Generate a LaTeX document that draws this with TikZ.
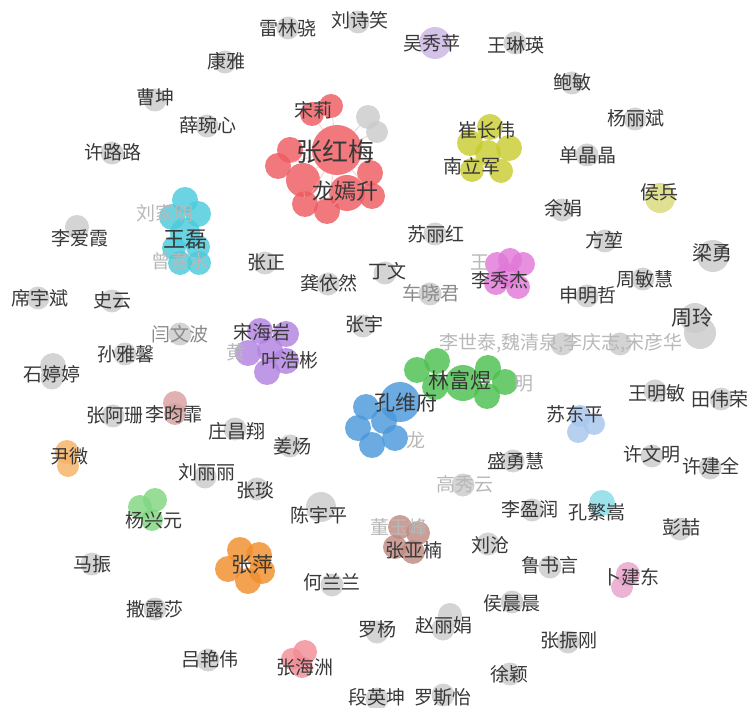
\documentclass[tikz,border=0pt]{standalone}
\usepackage{fontspec}
\newfontfamily\cjk{Noto Sans CJK SC}
\definecolor{labc}{HTML}{383838}
\definecolor{faintc}{HTML}{B8B8B8}
\definecolor{midc}{HTML}{8A8A8A}
\definecolor{cgray}{HTML}{CACACA}
\definecolor{cred}{HTML}{EE5B60}
\definecolor{cyel}{HTML}{C8CC30}
\definecolor{ccyan}{HTML}{4ACBDC}
\definecolor{cpurp}{HTML}{B283E0}
\definecolor{cmag}{HTML}{E078D8}
\definecolor{cgreen}{HTML}{4CC04E}
\definecolor{cblue}{HTML}{4A98DA}
\definecolor{clblue}{HTML}{A8C6EC}
\definecolor{corange}{HTML}{F08E2C}
\definecolor{cbrown}{HTML}{C08A80}
\definecolor{crose}{HTML}{D8A0A0}
\definecolor{cpink}{HTML}{F28C96}
\definecolor{ccyan2}{HTML}{86DCE6}
\definecolor{cpink2}{HTML}{E8A2CA}
\definecolor{cyel2}{HTML}{D8DA78}
\definecolor{cgreen2}{HTML}{80D680}
\definecolor{corange2}{HTML}{F5B264}
\definecolor{cpurp2}{HTML}{CBB4E4}
\definecolor{edgec}{HTML}{F4B0B0}
\tikzset{
  ball/.style={circle, inner sep=0pt, minimum size=#1, draw=none, fill opacity=0.82},
  ball/.default=22pt,
  gb/.style={ball=#1, fill=cgray},
  gb/.default=23pt,
  lab/.style={font=\cjk\fontsize{19}{19}\selectfont, text=labc, inner sep=0pt},
  faint/.style={lab, text=faintc},
  midlab/.style={lab, text=midc},
  big/.style={font=\cjk\fontsize{#1}{#1}\selectfont},
  edge/.style={draw=edgec, line width=0.8pt, opacity=0.7},
}
\begin{document}
\begin{tikzpicture}[x=1pt,y=-1pt]
\useasboundingbox (0,0) rectangle (750,708);
% ---------- red cluster ----------
\node[ball=50pt, fill=cred] (r0) at (337,150) {};
\node[ball=24pt, fill=cred] (r1) at (331,106) {};
\node[ball=24pt, fill=cred] (r2) at (312,114) {};
\node[ball=26pt, fill=cred] (r3) at (290,150) {};
\node[ball=26pt, fill=cred] (r4) at (278,166) {};
\node[ball=34pt, fill=cred] (r5) at (303,180) {};
\node[ball=26pt, fill=cred] (r6) at (305,204) {};
\node[ball=26pt, fill=cred] (r7) at (327,211) {};
\node[ball=36pt, fill=cred] (r8) at (347,193) {};
\node[ball=26pt, fill=cred] (r9) at (370,173) {};
\node[ball=26pt, fill=cred] (r10) at (372,196) {};
\node[gb=24pt] (rg1) at (368,117) {};
\node[gb=22pt] (rg2) at (377,132) {};
\foreach \n in {r1,r2,r3,r4,r5,r6,r7,r8,r9,r10,rg1,rg2} \draw[edge] (r0) -- (\n);
\draw[edge] (r8) -- (r6); \draw[edge] (r8) -- (r7); \draw[edge] (r5) -- (r6);
% ---------- yellow cluster ----------
\node[ball=26pt, fill=cyel] (y1) at (490,127) {};
\node[ball=26pt, fill=cyel] (y2) at (470,143) {};
\node[ball=26pt, fill=cyel] (y3) at (488,153) {};
\node[ball=26pt, fill=cyel] (y4) at (509,148) {};
\node[ball=24pt, fill=cyel] (y5) at (472,170) {};
\node[ball=24pt, fill=cyel] (y6) at (501,171) {};
% ---------- cyan cluster ----------
\node[ball=26pt, fill=ccyan] (c1) at (185,200) {};
\node[ball=26pt, fill=ccyan] (c2) at (172,217) {};
\node[ball=26pt, fill=ccyan] (c3) at (198,214) {};
\node[ball=30pt, fill=ccyan] (c4) at (185,233) {};
\node[ball=24pt, fill=ccyan] (c6) at (174,248) {};
\node[ball=24pt, fill=ccyan] (c7) at (198,247) {};
\node[ball=24pt, fill=ccyan] (c8) at (180,263) {};
\node[ball=24pt, fill=ccyan] (c9) at (199,263) {};
% ---------- magenta cluster ----------
\node[ball=24pt, fill=cmag] (m1) at (497,264) {};
\node[ball=24pt, fill=cmag] (m2) at (510,260) {};
\node[ball=24pt, fill=cmag] (m3) at (523,264) {};
\node[ball=24pt, fill=cmag] (m4) at (496,283) {};
\node[ball=24pt, fill=cmag] (m5) at (518,287) {};
\node[ball=24pt, fill=cmag] (m6) at (508,275) {};
% ---------- purple cluster ----------
\node[ball=26pt, fill=cpurp] (p1) at (260,331) {};
\node[ball=26pt, fill=cpurp] (p2) at (286,334) {};
\node[ball=26pt, fill=cpurp] (p3) at (248,353) {};
\node[ball=26pt, fill=cpurp] (p4) at (270,350) {};
\node[ball=26pt, fill=cpurp] (p5) at (286,361) {};
\node[ball=26pt, fill=cpurp] (p6) at (267,372) {};
% ---------- green cluster ----------
\node[ball=26pt, fill=cgreen] (g1) at (417,370) {};
\node[ball=26pt, fill=cgreen] (g2) at (437,361) {};
\node[ball=26pt, fill=cgreen] (g3) at (435,387) {};
\node[ball=36pt, fill=cgreen] (g4) at (463,383) {};
\node[ball=26pt, fill=cgreen] (g5) at (488,368) {};
\node[ball=26pt, fill=cgreen] (g6) at (505,382) {};
\node[ball=26pt, fill=cgreen] (g7) at (487,396) {};
% ---------- blue cluster ----------
\node[ball=26pt, fill=cblue] (b1) at (366,407) {};
\node[ball=40pt, fill=cblue] (b2) at (400,402) {};
\node[ball=26pt, fill=cblue] (b3) at (384,421) {};
\node[ball=26pt, fill=cblue] (b4) at (358,428) {};
\node[ball=26pt, fill=cblue] (b5) at (372,445) {};
\node[ball=26pt, fill=cblue] (b6) at (395,438) {};
\draw[draw=clblue, opacity=0.6] (b2) -- (g1); \draw[draw=clblue, opacity=0.6] (b2) -- (b6);
% ---------- small coloured groups ----------
\node[ball=32pt, fill=cpurp2] (wx) at (435,43) {};
\node[ball=30pt, fill=cyel2] (hb) at (660,198) {};
\node[ball=22pt, fill=clblue] (sd1) at (580,416) {};
\node[ball=22pt, fill=clblue] (sd2) at (594,424) {};
\node[ball=22pt, fill=clblue] (sd3) at (578,432) {};
\node[ball=26pt, fill=ccyan2] (kf) at (602,503) {};
\node[ball=24pt, fill=cpink2] (bj1) at (628,574) {};
\node[ball=22pt, fill=cpink2] (bj2) at (622,587) {};
\node[ball=24pt, fill=cbrown] (zy1) at (400,527) {};
\node[ball=24pt, fill=cbrown] (zy2) at (418,533) {};
\node[ball=24pt, fill=cbrown] (zy3) at (395,547) {};
\node[ball=24pt, fill=cbrown] (zy4) at (413,552) {};
\node[ball=26pt, fill=corange] (zp1) at (240,550) {};
\node[ball=26pt, fill=corange] (zp2) at (259,555) {};
\node[ball=26pt, fill=corange] (zp3) at (228,569) {};
\node[ball=26pt, fill=corange] (zp4) at (248,581) {};
\node[ball=26pt, fill=corange] (zp5) at (262,571) {};
\node[ball=24pt, fill=cpink] (zh1) at (305,652) {};
\node[ball=22pt, fill=cpink] (zh2) at (292,659) {};
\node[ball=22pt, fill=cpink] (zh3) at (302,667) {};
\node[ball=24pt, fill=cgreen2] (yx1) at (140,507) {};
\node[ball=24pt, fill=cgreen2] (yx2) at (155,500) {};
\node[ball=22pt, fill=cgreen2] (yx3) at (152,520) {};
\node[ball=24pt, fill=crose] (lj1) at (175,403) {};
\node[ball=22pt, fill=crose] (lj2) at (175,414) {};
\node[ball=24pt, fill=corange2] (yw1) at (67,452) {};
\node[ball=22pt, fill=corange2] (yw2) at (68,466) {};
% ---------- gray singletons ----------
\node[gb] (n1) at (288,28) {};
\node[gb] (n2) at (358,22) {};
\node[gb] (n4) at (515,43) {};
\node[gb] (n5) at (225,62) {};
\node[gb] (n6) at (155,100) {};
\node[gb] (n7) at (207,126) {};
\node[gb] (n8) at (112,153) {};
\node[gb] (n9) at (572,83) {};
\node[gb] (n10) at (635,119) {};
\node[gb] (n11) at (587,155) {};
\node[gb] (n13) at (562,210) {};
\node[gb] (n14) at (605,241) {};
\node[gb=32pt] (n15) at (713,256) {};
\node[gb] (n16) at (643,279) {};
\node[gb] (n17) at (587,296) {};
\node[gb=30pt] (n18a) at (695,318) {};
\node[gb=32pt] (n18b) at (700,333) {};
\node[gb] (n19a) at (562,344) {};
\node[gb] (n19b) at (620,344) {};
\node[gb] (n20) at (655,391) {};
\node[gb] (n21) at (721,399) {};
\node[gb] (n23) at (652,456) {};
\node[gb] (n24) at (710,468) {};
\node[gb] (n25) at (513,461) {};
\node[gb] (n26) at (532,510) {};
\node[gb] (n28) at (680,529) {};
\node[gb] (n29) at (550,567) {};
\node[gb] (n31) at (512,602) {};
\node[gb] (n32) at (568,642) {};
\node[gb] (n33) at (510,674) {};
\node[gb] (n34) at (463,485) {};
\node[gb] (n35) at (257,489) {};
\node[gb=30pt] (n36) at (321,507) {};
\node[gb] (n38) at (488,544) {};
\node[gb] (n40) at (332,585) {};
\node[gb] (n41) at (377,632) {};
\node[gb=24pt] (n42a) at (450,615) {};
\node[gb] (n42b) at (443,629) {};
\node[gb] (n44) at (377,699) {};
\node[gb] (n45) at (443,695) {};
\node[gb] (n46) at (205,477) {};
\node[gb] (n48) at (92,564) {};
\node[gb] (n49) at (155,609) {};
\node[gb] (n50) at (208,660) {};
\node[gb=24pt] (n51) at (77,227) {};
\node[gb] (n53) at (38,298) {};
\node[gb] (n54) at (112,301) {};
\node[gb] (n55) at (180,334) {};
\node[gb] (n56) at (125,354) {};
\node[gb=26pt] (n57a) at (53,366) {};
\node[gb] (n57b) at (52,378) {};
\node[gb] (n58) at (113,416) {};
\node[gb] (n60) at (235,429) {};
\node[gb] (n62) at (435,234) {};
\node[gb] (n63) at (265,263) {};
\node[gb] (n64) at (385,273) {};
\node[gb] (n65) at (328,284) {};
\node[gb] (n66) at (430,294) {};
\node[gb] (n67) at (363,326) {};
\node[gb] (n70) at (290,446) {};
% ---------- labels ----------
\node[lab] (t1) at (288,28) {雷林骁};
\node[lab] (t2) at (360,20) {刘诗笑};
\node[lab] (t3) at (432,43) {吴秀苹};
\node[lab] (t4) at (516,45) {王琳瑛};
\node[lab] (t5) at (226,61) {康雅};
\node[lab] (t6) at (155,97) {曹坤};
\node[lab] (t7) at (208,125) {薛琬心};
\node[lab] (t8) at (113,152) {许路路};
\node[lab] (t9) at (572,82) {鲍敏};
\node[lab] (t10) at (636,118) {杨丽斌};
\node[lab] (t11) at (588,155) {单晶晶};
\node[lab] (t12) at (659,192) {侯兵};
\node[lab] (t13) at (563,208) {余娟};
\node[lab] (t14) at (604,240) {方堃};
\node[lab, big=20] (t15) at (712,253) {梁勇};
\node[lab] (t16) at (645,279) {周敏慧};
\node[lab] (t17) at (588,295) {申明哲};
\node[lab, big=21] (t18) at (692,318) {周玲};
\node[faint] (t19) at (561,343) {李世泰,魏清泉,李庆志,宋彦华};
\node[lab] (t20) at (657,393) {王明敏};
\node[lab] (t21) at (720,399) {田伟荣};
\node[lab] (t22) at (575,414) {苏东平};
\node[lab] (t23) at (652,454) {许文明};
\node[lab] (t24) at (711,466) {许建全};
\node[lab] (t25) at (516,461) {盛勇慧};
\node[lab] (t26) at (530,509) {李盈润};
\node[lab] (t27) at (597,512) {孔繁嵩};
\node[lab] (t28) at (681,527) {彭喆};
\node[lab] (t29) at (550,565) {鲁书言};
\node[lab] (t30) at (631,577) {卜建东};
\node[lab] (t31) at (512,603) {侯晨晨};
\node[lab] (t32) at (569,640) {张振刚};
\node[lab] (t33) at (509,674) {徐颖};
\node[faint] (t34) at (465,484) {高秀云};
\node[lab] (t35) at (255,490) {张琰};
\node[lab] (t36) at (319,515) {陈宇平};
\node[faint] (t37a) at (399,527) {董玉峰};
\node[lab] (t37) at (414,550) {张亚楠};
\node[lab] (t38) at (490,545) {刘沧};
\node[lab, big=21] (t39) at (252,565) {张萍};
\node[lab] (t40) at (332,582) {何兰兰};
\node[lab] (t41) at (377,629) {罗杨};
\node[lab] (t42) at (444,625) {赵丽娟};
\node[lab] (t43) at (305,667) {张海洲};
\node[lab] (t44) at (377,697) {段英坤};
\node[lab] (t45) at (443,697) {罗斯怡};
\node[lab] (t46) at (207,472) {刘丽丽};
\node[lab] (t47) at (154,520) {杨兴元};
\node[lab] (t48) at (92,564) {马振};
\node[lab] (t49) at (155,609) {撒露莎};
\node[lab] (t50) at (210,659) {吕艳伟};
\node[lab] (t51) at (80,238) {李爱霞};
\node[lab, big=22] (t52) at (185,240) {王磊};
\node[faint] (t52a) at (165,213) {刘家明};
\node[faint] (t52b) at (180,261) {曾春水};
\node[lab] (t53) at (40,298) {席宇斌};
\node[lab] (t54) at (112,300) {史云};
\node[midlab] (t55) at (180,334) {闫文波};
\node[lab] (t56) at (126,354) {孙雅馨};
\node[lab] (t57) at (52,374) {石婷婷};
\node[lab] (t58) at (115,416) {张阿珊};
\node[lab] (t59) at (174,414) {李昀霏};
\node[lab] (t60) at (237,431) {庄昌翔};
\node[lab] (t61) at (69,456) {尹微};
\node[lab] (t62) at (436,234) {苏丽红};
\node[lab] (t63) at (266,263) {张正};
\node[lab] (t64) at (387,271) {丁文};
\node[lab] (t65) at (329,283) {龚依然};
\node[midlab] (t66) at (431,293) {车晓君};
\node[lab] (t67) at (364,324) {张宇};
\node[faint] (t68a) at (480,262) {王};
\node[lab] (t68) at (500,280) {李秀杰};
\node[faint] (t69a) at (236,352) {黄};
\node[lab] (t69) at (262,332) {宋海岩};
\node[lab] (t69b) at (290,360) {叶浩彬};
\node[lab] (t70) at (292,446) {姜炀};
\node[faint] (t71a) at (416,440) {龙};
\node[lab, big=21] (t71) at (406,402) {孔维府};
\node[faint] (t72a) at (524,384) {明};
\node[lab, big=21] (t72) at (460,380) {林富煜};
\node[lab] (t73a) at (313,110) {宋莉};
\node[lab, big=26] (t73) at (335,152) {张红梅};
\node[lab, big=22] (t73b) at (345,191) {龙嫣升};
\node[lab] (t74a) at (487,130) {崔长伟};
\node[lab] (t74b) at (472,166) {南立军};
\end{tikzpicture}
\end{document}
